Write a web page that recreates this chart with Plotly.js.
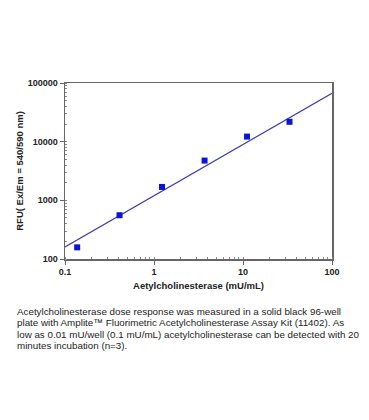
<!DOCTYPE html>
<html><head><meta charset="utf-8">
<script src="https://cdn.plot.ly/plotly-3.0.1.min.js"></script>
<style>html,body{margin:0;padding:0;background:#fff}</style>
</head><body><div id="chart" style="width:369px;height:420px"></div>
<script>
const concentration = [0.137, 0.41, 1.23, 3.7, 11.1, 33.3];
const rfu = [158, 557, 1690, 4760, 12200, 21800];
const fitX = [0.1, 100];
const fitY = [160, 67000];
const xTickVals = [0.1, 1, 10, 100];
const xTickText = ['0.1', '1', '10', '100'];
const yTickVals = [100, 1000, 10000, 100000];
const yTickText = ['100', '1000', '10000', '100000'];
const captionLines = [
  'Acetylcholinesterase dose response was measured in a solid black 96-well',
  'plate with Amplite™ Fluorimetric Acetylcholinesterase Assay Kit (11402). As',
  'low as 0.01 mU/well (0.1 mU/mL) acetylcholinesterase can be detected with 20',
  'minutes incubation (n=3).'
];

const fam = 'Arial, Liberation Sans, sans-serif';
const traces = [
  {x: fitX, y: fitY, mode: 'lines', line: {color: '#3d3db0', width: 1.2}, hoverinfo: 'skip'},
  {x: concentration, y: rfu, mode: 'markers', marker: {symbol: 'square', size: 6, color: '#0a14d6'}}
];
const common = {
  type: 'log', showgrid: false, zeroline: false, showline: true, linecolor: '#666', linewidth: 1.5,
  mirror: true, ticks: 'outside', ticklen: 4, tickcolor: '#666', tickwidth: 1,
  tickfont: {family: fam, size: 9, color: '#222', weight: 'bold'},
  minor: {ticks: 'inside', ticklen: 2, tickcolor: '#888', dtick: 'D1'}
};
const titleFont = {family: fam, size: 9.5, color: '#222', weight: 'bold'};
const annotations = captionLines.map((t, i) => ({
  text: t, xref: 'paper', yref: 'paper', x: (15 - 65) / 267, y: (259 - (311.5 + i * 11.3)) / 176,
  xanchor: 'left', yanchor: 'middle', align: 'left', showarrow: false,
  font: {family: fam, size: 9.8, color: '#222'}
}));
const layout = {
  width: 369, height: 420, showlegend: false,
  paper_bgcolor: '#fff', plot_bgcolor: '#fff',
  margin: {l: 65, r: 37, t: 83, b: 161},
  xaxis: Object.assign({}, common, {
    range: [-1, 2], tickvals: xTickVals, ticktext: xTickText,
    title: {text: 'Aetylcholinesterase (mU/mL)', standoff: 6, font: titleFont}
  }),
  yaxis: Object.assign({}, common, {
    range: [2, 5], tickvals: yTickVals, ticktext: yTickText,
    title: {text: 'RFU( Ex/Em = 540/590 nm)', standoff: 2, font: titleFont}
  }),
  annotations: annotations
};
Plotly.newPlot('chart', traces, layout, {displayModeBar: false, staticPlot: true});
</script></body></html>
